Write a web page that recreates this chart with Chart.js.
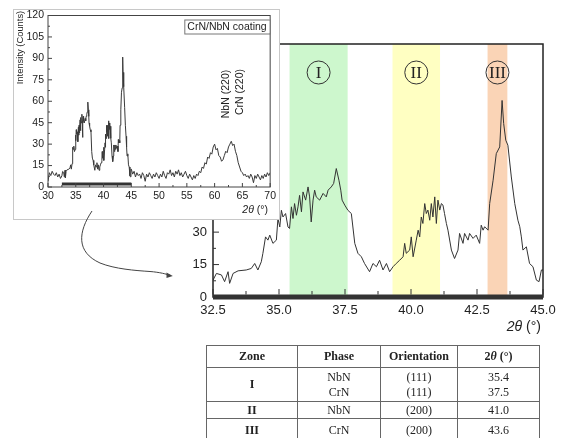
<!DOCTYPE html>
<html>
<head>
<meta charset="utf-8">
<script src="https://cdn.jsdelivr.net/npm/chart.js@4.4.0/dist/chart.umd.min.js"></script>
<style>
html,body{margin:0;padding:0;background:#fff;}
body{width:567px;height:438px;position:relative;overflow:hidden;font-family:"Liberation Sans",Arial,sans-serif;}
#mainWrap{position:absolute;left:0;top:0;width:567px;height:345px;}
#insetWrap{position:absolute;left:13px;top:9px;width:267px;height:211px;box-sizing:border-box;border:1px solid #c8c8c8;background:#fff;}
#insetWrap canvas{position:absolute;left:0;top:0;}
#arrow{position:absolute;left:0;top:0;pointer-events:none;}
#phaseTable{position:absolute;left:206px;top:345px;border-collapse:collapse;table-layout:fixed;
  font-family:"Liberation Serif","Times New Roman",serif;font-size:12px;color:#222;}
#phaseTable td,#phaseTable th{border:1px solid #666;padding:0;text-align:center;vertical-align:middle;line-height:15px;}
#phaseTable th{font-weight:bold;}
</style>
</head>
<body>
<div id="mainWrap"><canvas id="mainChart" width="567" height="345"></canvas></div>
<div id="insetWrap"><canvas id="insetChart" width="265" height="209"></canvas></div>
<svg id="arrow" width="567" height="438">
  <path d="M92,211 C78,232 76,252 100,263 C115,269 135,270.5 150,271.5 C160,272.3 166,274 171,275.6" fill="none" stroke="#444" stroke-width="1"/>
  <path d="M166.5,272.6 L172.8,276 L166.5,278 Z" fill="#444"/>
</svg>
<table id="phaseTable">
  <colgroup><col style="width:91px"><col style="width:83px"><col style="width:77px"><col style="width:82px"></colgroup>
  <thead><tr style="height:22px"><th>Zone</th><th>Phase</th><th>Orientation</th><th>2<i>θ</i> (°)</th></tr></thead>
  <tbody id="phaseRows"></tbody>
</table>
<script>
// ---- XRD scan, zoomed window 32.5–45° ----
const mainTheta = [32.50,32.63,32.82,32.94,33.07,33.13,33.26,33.45,33.76,33.95,34.08,34.20,34.33,34.39,34.49,34.58,34.65,34.77,34.90,34.96,
  35.03,35.09,35.15,35.25,35.34,35.40,35.47,35.53,35.59,35.66,35.72,35.78,35.85,35.91,36.01,36.10,36.16,36.22,36.29,36.35,
  36.41,36.54,36.67,36.79,36.86,36.98,37.07,37.17,37.27,37.34,37.39,37.49,37.61,37.74,37.87,37.99,38.12,38.24,38.43,38.56,
  38.69,38.81,38.94,39.07,39.19,39.32,39.44,39.57,39.70,39.76,39.82,39.95,40.01,40.08,40.20,40.27,40.33,40.39,40.45,40.52,
  40.58,40.64,40.71,40.77,40.83,40.90,40.96,41.02,41.09,41.15,41.21,41.27,41.34,41.40,41.53,41.65,41.78,41.84,41.97,42.03,
  42.16,42.22,42.35,42.47,42.60,42.66,42.73,42.79,42.92,42.98,43.11,43.23,43.36,43.45,43.51,43.59,43.67,43.80,43.93,44.05,
  44.12,44.18,44.24,44.37,44.49,44.62,44.75,44.85,44.94,45.00];
const mainCounts = [7.8,10.9,10.2,7.1,11.7,6.3,10.9,12.1,12.5,13.2,15.5,12.5,16.3,20.2,27.8,26.3,28.6,24.8,26.3,36.3,
  32.4,40.1,37.0,38.6,32.4,31.7,41.7,36.3,43.2,37.8,41.7,47.0,39.4,48.6,44.8,50.9,46.3,34.7,44.8,49.4,
  46.3,44.8,47.9,46.3,49.4,50.9,52.5,59.4,54.0,49.4,44.8,42.5,40.1,38.6,24.8,20.2,18.6,15.5,11.7,15.5,
  14,17,12.5,15.5,11.7,14,15.5,17,18.6,24.8,20.2,21.7,27.8,18.6,26.3,30.9,27.8,37,34,43.2,
  38.6,40.2,35.5,43.2,37,46.3,34,44.8,40.2,43.2,42.5,38.6,34,30.9,21.7,17.8,21.7,29.4,24.8,29.4,
  26.3,29.4,27.1,28.6,24.8,33.2,30.9,32.5,30.9,43.2,54,66.3,69.4,90.9,80.2,72.5,70.2,55.5,43.2,35.5,
  32.5,27.8,21.7,23.2,15.5,14,7.8,7.1,12.5,12.5];

// ---- full scan 30–70° (outside the zoomed window) ----
const insetLowTheta = [30,30.25,30.5,30.75,31,31.25,31.5,31.75,32,32.25];
const insetLowCounts = [4,10,8,11,9,8,10,7,9,6];
const insetHighTheta = [45.25,45.5,45.75,46,46.25,46.5,46.75,47,47.25,47.5,47.75,48,48.25,48.5,48.75,49,49.25,49.5,49.75,50,
  50.25,50.5,50.75,51,51.25,51.5,51.75,52,52.25,52.5,52.75,53,53.25,53.5,53.75,54,54.25,54.5,54.75,55,
  55.25,55.5,55.75,56,56.25,56.5,56.75,57,57.25,57.5,57.75,58,58.25,58.5,58.75,59,59.25,59.5,59.75,60,
  60.25,60.5,60.75,61,61.25,61.5,61.75,62,62.25,62.5,62.75,63,63.25,63.5,63.75,64,64.25,64.5,64.75,65,
  65.25,65.5,65.75,66,66.25,66.5,66.75,67,67.25,67.5,67.75,68,68.25,68.5,68.75,69,69.25,69.5,69.75,70];
const insetHighCounts = [9,11,7,10,8,9,6,10,8,4,9,7,10,8,6,9,7,10,8,6,
  9,7,11,8,6,10,9,12,8,10,7,11,9,12,8,10,7,9,11,8,
  6,9,7,5,8,6,9,8,11,10,14,13,17,16,21,20,24,23,28,30,
  26,27,22,21,18,19,22,25,24,28,30,32,29,30,25,22,17,14,11,10,
  8,9,7,8,6,9,7,3,8,6,9,7,5,8,6,9,7,10,8,10];

// ---- zones and peak assignments ----
const zoneLabels = ['I','II','III'];
const zoneStart = [35.4, 39.3, 42.9];
const zoneEnd = [37.6, 41.1, 43.65];
const tableZones = ['I','II','III'];
const tablePhases = [['NbN','CrN'],['NbN'],['CrN']];
const tableOrientations = [['(111)','(111)'],['(200)'],['(200)']];
const tablePeaks = [[35.4,37.5],[41.0],[43.6]];

// ---- axis ticks ----
const mainXTicks = [32.5, 35.0, 37.5, 40.0, 42.5, 45.0];
const insetXTicks = [30, 35, 40, 45, 50, 55, 60, 65, 70];
const insetYTicks = [0, 15, 30, 45, 60, 75, 90, 105, 120];
const wideLabels = ['NbN (220)', 'CrN (220)'];
const legendText = 'CrN/NbN coating';

const zoneFill = ['#cdf7cd', '#ffffc2', '#fad4b6'];
const SANS = '"Liberation Sans", Arial, sans-serif';

function pts(xs, ys) { return xs.map((v, i) => ({x: v, y: ys[i]})); }

function drawTwoTheta(ctx, rightX, midY, size) {
  ctx.textBaseline = 'middle';
  ctx.textAlign = 'left';
  ctx.font = 'italic ' + size + 'px ' + SANS;
  const w1 = ctx.measureText('2θ').width;
  ctx.font = size + 'px ' + SANS;
  const w2 = ctx.measureText(' (°)').width;
  const x0 = rightX - w1 - w2;
  ctx.font = 'italic ' + size + 'px ' + SANS;
  ctx.fillText('2θ', x0, midY);
  ctx.font = size + 'px ' + SANS;
  ctx.fillText(' (°)', x0 + w1, midY);
}

function tickMarks(ctx, scale, a, isX, majorLen, minorLen, base) {
  const vals = scale.ticks.map(t => t.value);
  ctx.beginPath();
  vals.forEach((v, i) => {
    const p = scale.getPixelForValue(v);
    if (isX) { ctx.moveTo(p, base); ctx.lineTo(p, base - majorLen); }
    else { ctx.moveTo(base, p); ctx.lineTo(base + majorLen, p); }
    if (i < vals.length - 1) {
      const m = scale.getPixelForValue((v + vals[i + 1]) / 2);
      if (isX) { ctx.moveTo(m, base); ctx.lineTo(m, base - minorLen); }
      else { ctx.moveTo(base, m); ctx.lineTo(base + minorLen, m); }
    }
  });
  ctx.stroke();
}

// ---- main (zoomed) chart ----
const mainDecor = {
  id: 'mainDecor',
  beforeDatasetsDraw(chart) {
    const {ctx, chartArea: a, scales: {x}} = chart;
    ctx.save();
    zoneStart.forEach((s, i) => {
      const x0 = x.getPixelForValue(s), x1 = x.getPixelForValue(zoneEnd[i]);
      ctx.fillStyle = zoneFill[i];
      ctx.fillRect(x0, a.top, x1 - x0, a.bottom - a.top);
    });
    ctx.restore();
  },
  afterDatasetsDraw(chart) {
    const {ctx, chartArea: a, scales: {x, y}} = chart;
    ctx.save();
    // circled zone numerals
    ctx.strokeStyle = '#333'; ctx.lineWidth = 1; ctx.fillStyle = '#222';
    ctx.font = '17px "Liberation Serif", "Times New Roman", serif';
    ctx.textAlign = 'center'; ctx.textBaseline = 'middle';
    zoneLabels.forEach((t, i) => {
      const cx = x.getPixelForValue((zoneStart[i] + zoneEnd[i]) / 2), cy = a.top + 28.5;
      ctx.beginPath(); ctx.arc(cx, cy, 11.5, 0, Math.PI * 2); ctx.stroke();
      ctx.fillText(t, cx, cy + 1);
    });
    // frame
    ctx.strokeStyle = '#222'; ctx.lineWidth = 1.5;
    ctx.strokeRect(a.left, a.top, a.right - a.left, a.bottom - a.top);
    // thick base bar
    ctx.fillStyle = '#333';
    ctx.fillRect(a.left, a.bottom - 2.5, a.right - a.left, 5);
    // inward ticks
    ctx.strokeStyle = '#333'; ctx.lineWidth = 1;
    tickMarks(ctx, x, a, true, 5.5, 3.5, a.bottom - 2.5);
    tickMarks(ctx, y, a, false, 6, 3, a.left);
    // axis title
    ctx.fillStyle = '#222';
    drawTwoTheta(ctx, 541, 327, 14);
    ctx.restore();
  }
};

new Chart(document.getElementById('mainChart'), {
  type: 'line',
  data: { datasets: [{ data: pts(mainTheta, mainCounts), borderColor: '#333', borderWidth: 1, pointRadius: 0, tension: 0 }] },
  options: {
    responsive: false, animation: false, devicePixelRatio: 1,
    layout: { padding: { left: 173, right: 24, top: 44, bottom: 18 } },
    plugins: { legend: { display: false }, tooltip: { enabled: false } },
    scales: {
      x: {
        type: 'linear', min: 32.5, max: 45,
        afterBuildTicks(s) { s.ticks = mainXTicks.map(v => ({value: v})); },
        afterFit(s) { s.height = 30; },
        grid: { display: false, drawTicks: false }, border: { display: false },
        ticks: { padding: 6, color: '#222', font: { family: SANS, size: 13 }, callback: v => Number(v).toFixed(1), maxRotation: 0 }
      },
      y: {
        min: 0, max: 117,
        afterFit(s) { s.width = 40; s.paddingTop = 0; s.paddingBottom = 0; },
        grid: { display: false, drawTicks: false }, border: { display: false },
        ticks: { stepSize: 15, padding: 6, color: '#222', font: { family: SANS, size: 13 } }
      }
    }
  },
  plugins: [mainDecor]
});

// ---- inset (full scan) chart ----
const insetDecor = {
  id: 'insetDecor',
  afterDatasetsDraw(chart) {
    const {ctx, chartArea: a, scales: {x, y}} = chart;
    ctx.save();
    ctx.strokeStyle = '#444'; ctx.lineWidth = 1;
    ctx.strokeRect(a.left, a.top, a.right - a.left, a.bottom - a.top);
    // bar marking the zoomed window
    ctx.fillStyle = '#333';
    const b0 = x.getPixelForValue(mainTheta[0]), b1 = x.getPixelForValue(mainTheta[mainTheta.length - 1]);
    ctx.fillRect(b0, a.bottom - 4.5, b1 - b0, 3);
    tickMarks(ctx, x, a, true, 4, 2, a.bottom);
    tickMarks(ctx, y, a, false, 4, 2, a.left);
    // legend box
    ctx.font = '10.5px ' + SANS;
    ctx.textAlign = 'center'; ctx.textBaseline = 'middle';
    const tw = ctx.measureText(legendText).width;
    const lx = 213, ly = 16.5;
    ctx.fillStyle = '#fff';
    ctx.fillRect(lx - tw / 2 - 3, ly - 7, tw + 6, 14);
    ctx.strokeStyle = '#777';
    ctx.strokeRect(lx - tw / 2 - 3 + 0.5, ly - 7 + 0.5, tw + 6, 14);
    ctx.fillStyle = '#222';
    ctx.fillText(legendText, lx, ly + 0.5);
    // (220) reflection labels
    ctx.font = '10.5px ' + SANS;
    [[212, 84], [226, 82]].forEach((p, i) => {
      ctx.save(); ctx.translate(p[0], p[1]); ctx.rotate(-Math.PI / 2);
      ctx.fillText(wideLabels[i], 0, 0); ctx.restore();
    });
    // axis titles
    ctx.save(); ctx.translate(6, 37.5); ctx.rotate(-Math.PI / 2);
    ctx.font = '9.4px ' + SANS; ctx.fillText('Intensity (Counts)', 0, 0); ctx.restore();
    drawTwoTheta(ctx, 254, 200, 10.5);
    ctx.restore();
  }
};

new Chart(document.getElementById('insetChart'), {
  type: 'line',
  data: { datasets: [{
    data: pts(insetLowTheta, insetLowCounts).concat(pts(mainTheta, mainCounts), pts(insetHighTheta, insetHighCounts)),
    borderColor: '#3a3a3a', borderWidth: 1, pointRadius: 0, tension: 0 }] },
  options: {
    responsive: false, animation: false, devicePixelRatio: 1,
    layout: { padding: { left: 0, right: 7, top: 5.5, bottom: 8 } },
    plugins: { legend: { display: false }, tooltip: { enabled: false } },
    scales: {
      x: {
        type: 'linear', min: 30, max: 70,
        afterBuildTicks(s) { s.ticks = insetXTicks.map(v => ({value: v})); },
        afterFit(s) { s.height = 24; },
        grid: { display: false, drawTicks: false }, border: { display: false },
        ticks: { padding: 3, color: '#222', font: { family: SANS, size: 10.5 }, maxRotation: 0 }
      },
      y: {
        min: 0, max: 120,
        afterBuildTicks(s) { s.ticks = insetYTicks.map(v => ({value: v})); },
        afterFit(s) { s.width = 34; s.paddingTop = 0; s.paddingBottom = 0; },
        grid: { display: false, drawTicks: false }, border: { display: false },
        ticks: { padding: 4, color: '#222', font: { family: SANS, size: 10.5 } }
      }
    }
  },
  plugins: [insetDecor]
});

// ---- peak assignment table ----
const body = document.getElementById('phaseRows');
const rowHeights = [34, 17, 24];
tableZones.forEach((z, i) => {
  const tr = document.createElement('tr');
  tr.style.height = rowHeights[i] + 'px';
  const cells = [
    '<b>' + z + '</b>',
    tablePhases[i].join('<br>'),
    tableOrientations[i].join('<br>'),
    tablePeaks[i].map(v => v.toFixed(1)).join('<br>')
  ];
  tr.innerHTML = cells.map(c => '<td>' + c + '</td>').join('');
  body.appendChild(tr);
});
</script>
</body>
</html>
